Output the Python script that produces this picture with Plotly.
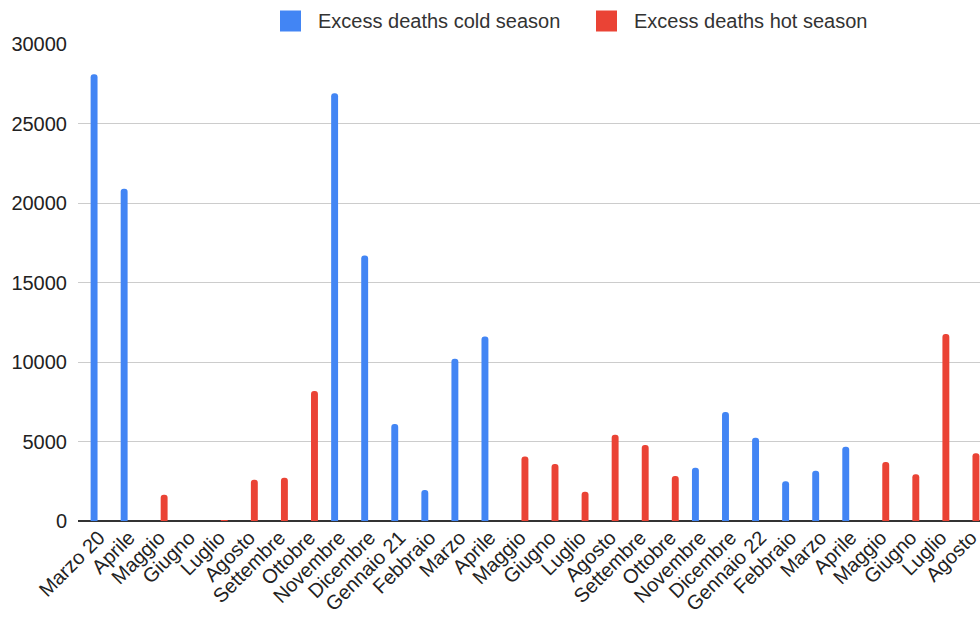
import plotly.graph_objects as go

# Monthly categories (March 2020 - August 2022)
months = ["Marzo 20", "Aprile", "Maggio", "Giugno", "Luglio", "Agosto", "Settembre",
          "Ottobre", "Novembre", "Dicembre", "Gennaio 21", "Febbraio", "Marzo", "Aprile",
          "Maggio", "Giugno", "Luglio", "Agosto", "Settembre", "Ottobre", "Novembre",
          "Dicembre", "Gennaio 22", "Febbraio", "Marzo", "Aprile", "Maggio", "Giugno",
          "Luglio", "Agosto"]

cold_season = [28100, 20900, 0, 0, 0, 0, 0, 0, 26900, 16700, 6100, 1950, 10200, 11600,
               0, 0, 0, 0, 0, 0, 3350, 6860, 5240, 2500, 3160, 4670, 0, 0, 0, 0]

hot_season = [0, 0, 1650, 0, 20, 2600, 2720, 8180, 0, 0, 0, 0, 0, 0,
              4050, 3580, 1840, 5430, 4780, 2830, 0, 0, 0, 0, 0, 0, 3710, 2940, 11760, 4260]

series_names = ["Excess deaths cold season", "Excess deaths hot season"]
series_colors = ["#4285F4", "#EA4335"]

y_ticks = [0, 5000, 10000, 15000, 20000, 25000, 30000]

idx = list(range(len(months)))
FONT = "Liberation Sans, Arial, sans-serif"

W, H = 980, 619
ML, MR, MT, MB = 78, 0, 44, 98
PW, PH = W - ML - MR, H - MT - MB


def px_x(p):
    return (p - ML) / PW


def px_y(p):
    return (H - MB - p) / PH


fig = go.Figure()
fig.add_trace(go.Bar(
    x=idx, y=cold_season, name=series_names[0],
    marker=dict(color=series_colors[0], line=dict(width=0)),
    width=0.23, offset=-0.28,
))
fig.add_trace(go.Bar(
    x=idx, y=hot_season, name=series_names[1],
    marker=dict(color=series_colors[1], line=dict(width=0)),
    width=0.23, offset=0.05,
))

# Legend drawn as swatches plus labels above the plot
shapes = []
annotations = []
for (sq_left, txt_left), name, color in zip([(280, 316), (596, 632)], series_names, series_colors):
    shapes.append(dict(
        type="rect", xref="paper", yref="paper",
        x0=px_x(sq_left), x1=px_x(sq_left + 21),
        y0=px_y(31.5), y1=px_y(10.5),
        fillcolor=color, line=dict(width=0), layer="above",
    ))
    annotations.append(dict(
        text=name, xref="paper", yref="paper",
        x=px_x(txt_left), y=px_y(21), xanchor="left", yanchor="middle",
        showarrow=False, font=dict(family=FONT, size=20, color="#333333"),
    ))

fig.update_layout(
    width=W, height=H,
    margin=dict(l=ML, r=MR, t=MT, b=MB),
    paper_bgcolor="white", plot_bgcolor="white",
    barcornerradius=3,
    font=dict(family=FONT, size=20, color="#222222"),
    showlegend=False,
    shapes=shapes,
    annotations=annotations,
    xaxis=dict(
        range=[-0.7, 29.3],
        tickmode="array", tickvals=idx, ticktext=months,
        tickangle=-45, tickfont=dict(family=FONT, size=20, color="#222222"),
        ticklabeloverflow="allow",
        showgrid=False, zeroline=False, showline=False, ticks="",
    ),
    yaxis=dict(
        range=[0, 30000],
        tickmode="array", tickvals=y_ticks, ticktext=[str(v) for v in y_ticks],
        tickfont=dict(family=FONT, size=20, color="#222222"),
        showgrid=True, gridcolor="#cccccc", gridwidth=1,
        zeroline=True, zerolinecolor="#333333", zerolinewidth=1.5,
        showline=False, ticks="", ticklabelstandoff=10,
    ),
)

fig.write_html("out.html")
